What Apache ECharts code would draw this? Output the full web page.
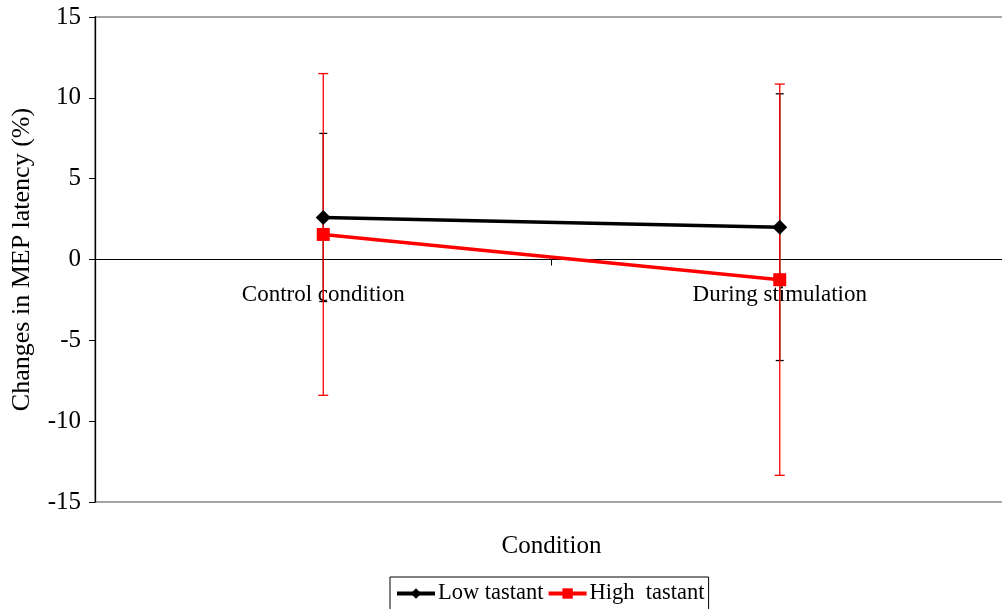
<!DOCTYPE html>
<html><head><meta charset="utf-8">
<script src="https://cdn.jsdelivr.net/npm/echarts@6/dist/echarts.min.js"></script>
<style>html,body{margin:0;padding:0;background:#fff}#c{width:1002px;height:609px}</style>
</head><body><div id="c"></div>
<script>
const categories = ['Control condition', 'During stimulation'];
const lowMean = [2.6, 2.0];
const lowErr = [5.2, 8.25];
const highMean = [1.55, -1.25];
const highErr = [9.95, 12.1];
const yTicks = [-15, -10, -5, 0, 5, 10, 15];

const FONT = '"Liberation Serif", "Times New Roman", serif';
const chart = echarts.init(document.getElementById('c'));

function errData(mean, err) {
  return mean.map((m, i) => [i, m - err[i], m + err[i]]);
}
function errSeries(name, mean, err, color, cap, z) {
  return {
    type: 'custom', name: name + ' err', z: z, silent: true,
    data: errData(mean, err),
    renderItem: function (params, api) {
      const x = api.value(0);
      const lo = api.coord([x, api.value(1)]);
      const hi = api.coord([x, api.value(2)]);
      const style = { stroke: color, lineWidth: 1.3 };
      return { type: 'group', children: [
        { type: 'line', shape: { x1: lo[0], y1: lo[1], x2: hi[0], y2: hi[1] }, style: style },
        { type: 'line', shape: { x1: lo[0] - cap, y1: lo[1], x2: lo[0] + cap, y2: lo[1] }, style: style },
        { type: 'line', shape: { x1: hi[0] - cap, y1: hi[1], x2: hi[0] + cap, y2: hi[1] }, style: style }
      ]};
    }
  };
}

chart.setOption({
  animation: false,
  grid: { left: 95, right: -6, top: 17, bottom: 107, outerBoundsMode: 'none', containLabel: false,
          show: true, borderColor: '#888', borderWidth: 1.5, backgroundColor: 'transparent' },
  xAxis: {
    type: 'category', data: categories, position: 'bottom', offset: -242.5,
    name: 'Condition', nameLocation: 'middle', nameGap: 274,
    nameTextStyle: { fontFamily: FONT, fontSize: 25, color: '#000' },
    axisLine: { onZero: false, lineStyle: { color: '#000', width: 1 } },
    axisTick: { show: true, inside: false, length: 6, lineStyle: { color: '#000' } },
    axisLabel: { fontFamily: FONT, fontSize: 23, color: '#000', margin: 24 },
    splitLine: { show: false }
  },
  yAxis: {
    type: 'value', min: yTicks[0], max: yTicks[yTicks.length - 1], interval: 5,
    name: 'Changes in MEP latency (%)', nameLocation: 'middle', nameGap: 60,
    nameTextStyle: { fontFamily: FONT, fontSize: 26, color: '#000' },
    axisLine: { show: true, lineStyle: { color: '#000', width: 1.3 } },
    axisTick: { show: true, length: 6, lineStyle: { color: '#000' } },
    axisLabel: { fontFamily: FONT, fontSize: 25, color: '#000', margin: 14 },
    splitLine: { show: false }
  },
  legend: {
    left: 390, top: 577,
    data: ['Low tastant', 'High  tastant'],
    borderColor: '#000', borderWidth: 1, borderRadius: 0,
    padding: [5, 4, 10, 5], itemGap: 3, itemWidth: 38, itemHeight: 13,
    lineStyle: { width: 4 },
    textStyle: { fontFamily: FONT, fontSize: 22.5, color: '#000', padding: [0, 0, 0, -2] }
  },
  series: [
    errSeries('Low tastant', lowMean, lowErr, '#000', 4, 1),
    errSeries('High  tastant', highMean, highErr, '#ff0000', 5, 2),
    {
      type: 'line', name: 'Low tastant', data: lowMean, z: 3,
      symbol: 'diamond', symbolSize: 15,
      lineStyle: { color: '#000', width: 3.5 },
      itemStyle: { color: '#000' }
    },
    {
      type: 'line', name: 'High  tastant', data: highMean, z: 4,
      symbol: 'rect', symbolSize: 13,
      lineStyle: { color: '#ff0000', width: 3.5 },
      itemStyle: { color: '#ff0000' }
    }
  ]
});
</script></body></html>
